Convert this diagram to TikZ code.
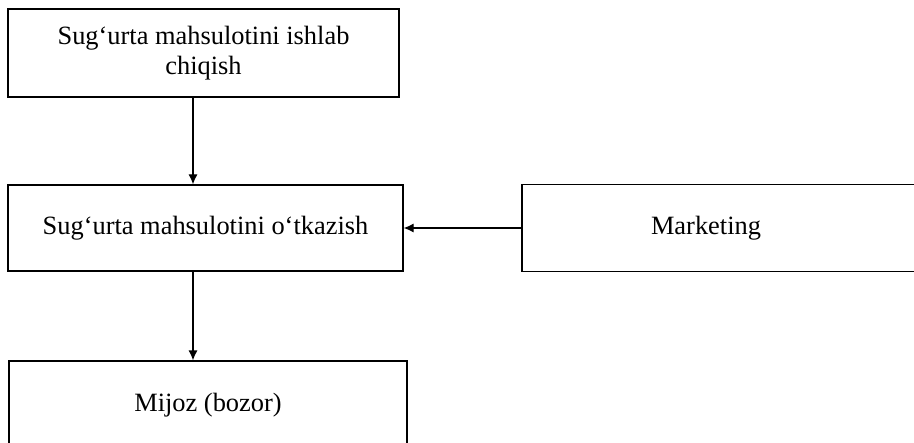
\documentclass[tikz,border=0pt]{standalone}
\usepackage{fontspec}
\setmainfont{Liberation Serif}
\usetikzlibrary{arrows.meta}

\begin{document}
\begin{tikzpicture}[x=0.5pt,y=-0.5pt,>={Latex[length=5pt,width=4.5pt]},
  font=\fontsize{13.2}{14.8}\selectfont,line width=0.6pt,
  box/.style={draw,inner sep=0pt,align=center}]
\useasboundingbox (0,0) rectangle (914,443);
\clip (0,0) rectangle (914,443);
% boxes
\node[box,minimum width=195.5pt,minimum height=44pt] (ishlab) at (203.5,53)
  {Sug‘urta mahsulotini ishlab\\chiqish};
\node[box,minimum width=197.5pt,minimum height=43pt] (otkaz) at (205.5,228)
  {Sug‘urta mahsulotini o‘tkazish};
\node[box,minimum width=204pt,minimum height=43.5pt] (mkt) at (726,228) {};
\node (mkttext) at (706,228) {Marketing};
\node[box,minimum width=199pt,minimum height=44pt] (mijoz) at (208,405)
  {Mijoz (bozor)};
% arrows
\coordinate (col) at (193,0);
\draw[->] (ishlab.south -| col) -- (otkaz.north -| col);
\draw[->] (otkaz.south -| col) -- (mijoz.north -| col);
\draw[->] (mkt.west) -- (otkaz.east);
\end{tikzpicture}
\end{document}
